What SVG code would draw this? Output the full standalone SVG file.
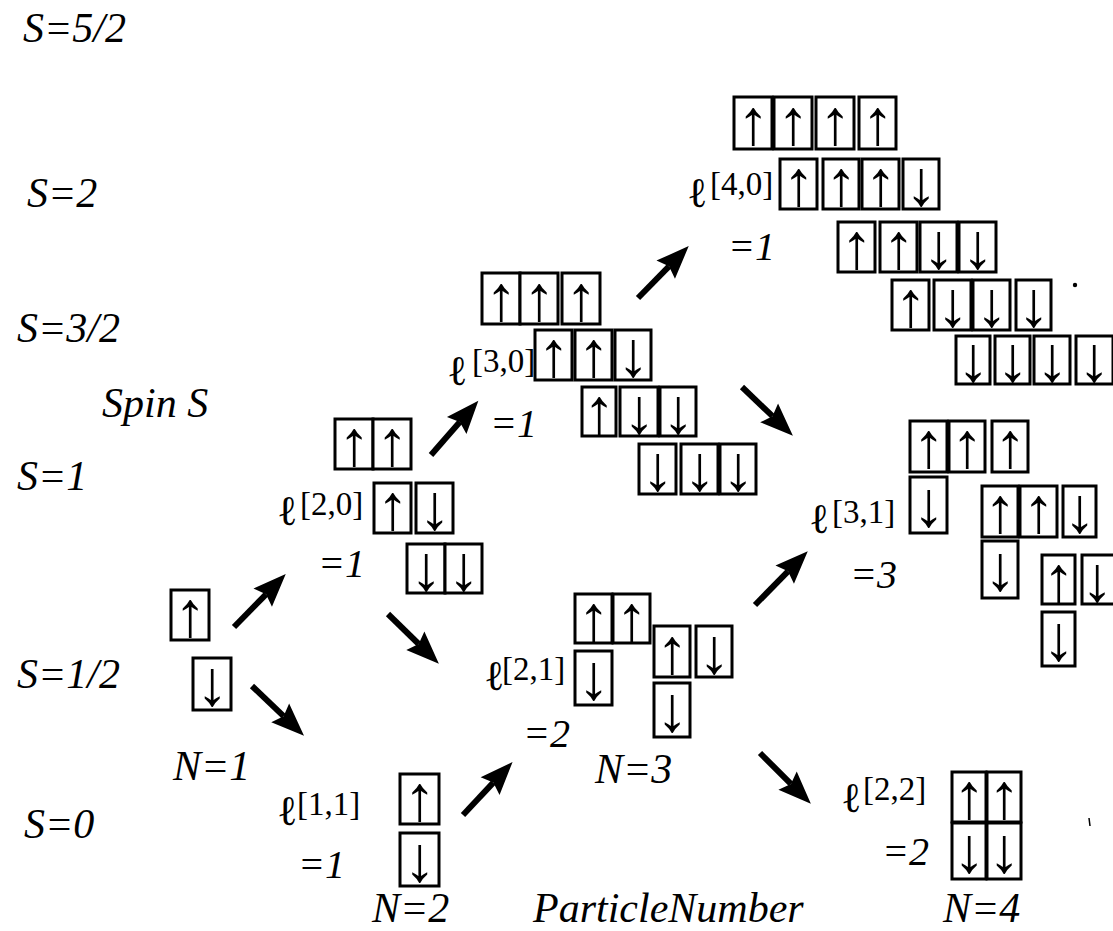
<svg xmlns="http://www.w3.org/2000/svg" width="1113" height="931" viewBox="0 0 1113 931">
<defs>
<marker id="ah" markerUnits="userSpaceOnUse" markerWidth="40" markerHeight="40" viewBox="-2 -15 34 30" refX="4" refY="0" orient="auto">
<path d="M0,-11 L28,0 L0,11 L4,0 Z" fill="#000"/>
</marker>
</defs>
<style>
.b{fill:#fff;stroke:#000;stroke-width:3}
.s{font-family:"Liberation Serif",serif;font-size:64px;text-anchor:middle;fill:#000}
.t{font-family:"Liberation Serif",serif;font-style:italic;font-size:42px;fill:#000}
.e{font-family:"Liberation Serif",serif;font-style:italic;font-size:40px;fill:#000}
.l{font-family:"DejaVu Serif",serif;font-size:42px;fill:#000}
.sup{font-family:"Liberation Serif",serif;font-size:33px;fill:#000}
.c{fill:none;stroke:#000;stroke-width:6;marker-end:url(#ah)}
</style>
<rect width="1113" height="931" fill="#fff"/>

<g id="axis-labels">
<text class="t" x="23" y="42">S=5/2</text>
<text class="t" x="27" y="207">S=2</text>
<text class="t" x="17" y="342">S=3/2</text>
<text class="t" x="102" y="417">Spin S</text>
<text class="t" x="17" y="490">S=1</text>
<text class="t" x="17" y="688">S=1/2</text>
<text class="t" x="24" y="838">S=0</text>
<text class="t" x="173" y="780">N=1</text>
<text class="t" x="372" y="922">N=2</text>
<text class="t" x="595" y="783">N=3</text>
<text class="t" x="533" y="922">ParticleNumber</text>
<text class="t" x="943" y="922">N=4</text>
</g>

<g id="node-n1">
<rect class="b" x="171" y="590" width="38" height="50"/><text class="s" x="190" y="636">↑</text>
<rect class="b" x="193" y="658" width="38" height="52"/><text class="s" x="212" y="705">↓</text>
</g>

<g id="node-l20">
<text class="l" x="277" y="525">ℓ</text><text class="sup" x="300" y="515">[2,0]</text>
<text class="e" x="318" y="577">=1</text>
<rect class="b" x="335" y="419" width="38" height="50"/><text class="s" x="354" y="465">↑</text>
<rect class="b" x="373" y="419" width="38" height="50"/><text class="s" x="392" y="465">↑</text>
<rect class="b" x="374" y="483" width="37" height="50"/><text class="s" x="392.5" y="529">↑</text>
<rect class="b" x="416" y="483" width="37" height="50"/><text class="s" x="434.5" y="529">↓</text>
<rect class="b" x="407" y="544" width="38" height="49"/><text class="s" x="426" y="589.5">↓</text>
<rect class="b" x="445" y="544" width="37" height="49"/><text class="s" x="463.5" y="589.5">↓</text>
</g>

<g id="node-l11">
<text class="l" x="277" y="825">ℓ</text><text class="sup" x="297" y="815">[1,1]</text>
<text class="e" x="298" y="878">=1</text>
<rect class="b" x="400" y="774" width="39" height="50"/><text class="s" x="419.5" y="820">↑</text>
<rect class="b" x="400" y="833" width="39" height="53"/><text class="s" x="419.5" y="880.5">↓</text>
</g>

<g id="node-l30">
<text class="l" x="447" y="385">ℓ</text><text class="sup" x="472" y="372">[3,0]</text>
<text class="e" x="490" y="437">=1</text>
<rect class="b" x="482" y="273" width="38" height="51"/><text class="s" x="501" y="319.5">↑</text>
<rect class="b" x="520" y="273" width="38" height="51"/><text class="s" x="539" y="319.5">↑</text>
<rect class="b" x="562" y="273" width="38" height="51"/><text class="s" x="581" y="319.5">↑</text>
<rect class="b" x="535" y="330" width="37" height="50"/><text class="s" x="553.5" y="376">↑</text>
<rect class="b" x="575" y="330" width="37" height="50"/><text class="s" x="593.5" y="376">↑</text>
<rect class="b" x="615" y="330" width="36" height="50"/><text class="s" x="633" y="376">↓</text>
<rect class="b" x="582" y="387" width="34" height="49"/><text class="s" x="599" y="432.5">↑</text>
<rect class="b" x="620" y="387" width="38" height="49"/><text class="s" x="639" y="432.5">↓</text>
<rect class="b" x="660" y="387" width="36" height="49"/><text class="s" x="678" y="432.5">↓</text>
<rect class="b" x="639" y="444" width="37" height="50"/><text class="s" x="657.5" y="490">↓</text>
<rect class="b" x="681" y="444" width="37" height="50"/><text class="s" x="699.5" y="490">↓</text>
<rect class="b" x="720" y="444" width="36" height="50"/><text class="s" x="738" y="490">↓</text>
</g>

<g id="node-l21">
<text class="l" x="484" y="690">ℓ</text><text class="sup" x="502" y="680">[2,1]</text>
<text class="e" x="523" y="747">=2</text>
<rect class="b" x="575" y="594" width="37" height="49"/><text class="s" x="593.5" y="639.5">↑</text>
<rect class="b" x="613" y="594" width="37" height="49"/><text class="s" x="631.5" y="639.5">↑</text>
<rect class="b" x="575" y="651" width="37" height="54"/><text class="s" x="593.5" y="699">↓</text>
<rect class="b" x="654" y="626" width="36" height="51"/><text class="s" x="672" y="672.5">↑</text>
<rect class="b" x="696" y="626" width="36" height="51"/><text class="s" x="714" y="672.5">↓</text>
<rect class="b" x="654" y="683" width="36" height="54"/><text class="s" x="672" y="731">↓</text>
</g>

<g id="node-l40">
<text class="l" x="687" y="207">ℓ</text><text class="sup" x="710" y="195">[4,0]</text>
<text class="e" x="728" y="260">=1</text>
<rect class="b" x="734" y="97" width="38" height="52"/><text class="s" x="753" y="144">↑</text>
<rect class="b" x="774" y="97" width="38" height="52"/><text class="s" x="793" y="144">↑</text>
<rect class="b" x="816" y="97" width="38" height="52"/><text class="s" x="835" y="144">↑</text>
<rect class="b" x="859" y="97" width="37" height="52"/><text class="s" x="877.5" y="144">↑</text>
<rect class="b" x="780" y="159" width="37" height="50"/><text class="s" x="798.5" y="205">↑</text>
<rect class="b" x="823" y="159" width="36" height="50"/><text class="s" x="841" y="205">↑</text>
<rect class="b" x="862" y="159" width="37" height="50"/><text class="s" x="880.5" y="205">↑</text>
<rect class="b" x="903" y="159" width="36" height="50"/><text class="s" x="921" y="205">↓</text>
<rect class="b" x="838" y="222" width="37" height="50"/><text class="s" x="856.5" y="268">↑</text>
<rect class="b" x="880" y="222" width="37" height="50"/><text class="s" x="898.5" y="268">↑</text>
<rect class="b" x="920" y="222" width="37" height="50"/><text class="s" x="938.5" y="268">↓</text>
<rect class="b" x="959" y="222" width="37" height="50"/><text class="s" x="977.5" y="268">↓</text>
<rect class="b" x="892" y="280" width="37" height="50"/><text class="s" x="910.5" y="326">↑</text>
<rect class="b" x="934" y="280" width="37" height="50"/><text class="s" x="952.5" y="326">↓</text>
<rect class="b" x="973" y="280" width="37" height="50"/><text class="s" x="991.5" y="326">↓</text>
<rect class="b" x="1016" y="280" width="35" height="50"/><text class="s" x="1033.5" y="326">↓</text>
<rect class="b" x="956" y="336" width="34" height="48"/><text class="s" x="973" y="381">↓</text>
<rect class="b" x="995" y="336" width="35" height="48"/><text class="s" x="1012.5" y="381">↓</text>
<rect class="b" x="1034" y="336" width="36" height="48"/><text class="s" x="1052" y="381">↓</text>
<rect class="b" x="1076" y="336" width="37" height="48"/><text class="s" x="1094" y="381">↓</text>
<circle cx="1075" cy="285" r="2.2" fill="#000"/>
</g>

<g id="node-l31">
<text class="l" x="809" y="533">ℓ</text><text class="sup" x="832" y="523">[3,1]</text>
<text class="e" x="850" y="588">=3</text>
<rect class="b" x="910" y="421" width="37" height="51"/><text class="s" x="928.5" y="466.5">↑</text>
<rect class="b" x="949" y="421" width="36" height="51"/><text class="s" x="967" y="466.5">↑</text>
<rect class="b" x="992" y="421" width="36" height="51"/><text class="s" x="1010" y="466.5">↑</text>
<rect class="b" x="910" y="477" width="37" height="56"/><text class="s" x="928.5" y="526">↓</text>
<rect class="b" x="982" y="486" width="36" height="51"/><text class="s" x="1000" y="531.5">↑</text>
<rect class="b" x="1020" y="486" width="37" height="51"/><text class="s" x="1038.5" y="531.5">↑</text>
<rect class="b" x="1063" y="486" width="33" height="51"/><text class="s" x="1079.5" y="531.5">↓</text>
<rect class="b" x="982" y="541" width="36" height="57"/><text class="s" x="1000" y="589.5">↓</text>
<rect class="b" x="1042" y="555" width="33" height="49"/><text class="s" x="1058.5" y="600.5">↑</text>
<rect class="b" x="1082" y="555" width="36" height="49"/><text class="s" x="1097" y="600.5">↓</text>
<rect class="b" x="1042" y="612" width="33" height="54"/><text class="s" x="1058.5" y="660">↓</text>
</g>

<g id="node-l22">
<text class="l" x="841" y="812">ℓ</text><text class="sup" x="863" y="800">[2,2]</text>
<text class="e" x="882" y="865">=2</text>
<rect class="b" x="952" y="772" width="34" height="50"/><text class="s" x="969" y="818">↑</text>
<rect class="b" x="987" y="772" width="34" height="50"/><text class="s" x="1004" y="818">↑</text>
<rect class="b" x="952" y="823" width="34" height="56"/><text class="s" x="969" y="872">↓</text>
<rect class="b" x="987" y="823" width="34" height="56"/><text class="s" x="1004" y="872">↓</text>
<path d="M1089,818 L1090,826" stroke="#000" stroke-width="1.5"/>
</g>

<g id="connectors">
<line class="c" x1="234" y1="627" x2="266" y2="594.3"/>
<line class="c" x1="252" y1="686" x2="283.6" y2="716.2"/>
<line class="c" x1="431" y1="455" x2="459.8" y2="422"/>
<line class="c" x1="388" y1="614" x2="418.7" y2="644"/>
<line class="c" x1="463" y1="815" x2="493.3" y2="782.6"/>
<line class="c" x1="638" y1="298" x2="669" y2="266.3"/>
<line class="c" x1="742" y1="387" x2="772.5" y2="416.2"/>
<line class="c" x1="755" y1="605" x2="788" y2="571.3"/>
<line class="c" x1="760" y1="753" x2="790.9" y2="783.9"/>
</g>
</svg>
